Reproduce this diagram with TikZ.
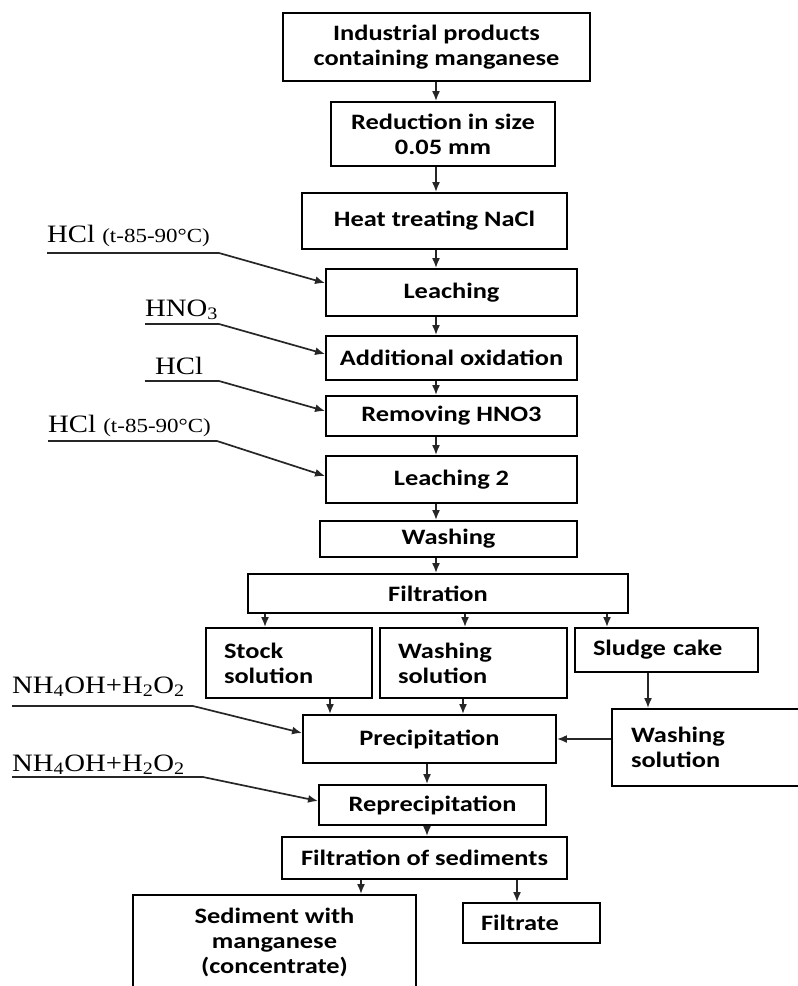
\documentclass[tikz,border=0pt]{standalone}
\usepackage{fontspec}
\setmainfont{Liberation Serif}
\newfontfamily\boxfont{Carlito}[FakeStretch=1.2]
\newfontfamily\chemfont{Liberation Serif}[FakeStretch=1.15]
\usetikzlibrary{arrows.meta}

\begin{document}
\begin{tikzpicture}[x=1pt, y=-1pt,
    box/.style={rectangle, draw, line width=1.9pt, inner sep=0pt, align=center, font=\boxfont\bfseries\fontsize{22}{25}\selectfont},
    lbox/.style={box, align=left},
    chem/.style={anchor=base west, inner sep=0pt, font=\chemfont\fontsize{25}{28}\selectfont},
    arrow/.style={-{Latex[length=10pt,width=8pt]}, line width=1.7pt, draw=black!85}
]
\useasboundingbox (0,0) rectangle (798,986);
\clip (0,0) rectangle (798,986);

% Main line
\node[box, minimum width=307pt, minimum height=68pt] (top) at (436.5,47) {Industrial products\\containing manganese};
\node[box, minimum width=224pt, minimum height=64pt] (reduce) at (443,134) {Reduction in size\\0.05 mm};
\node[box, minimum width=265pt, minimum height=56pt] (heat) at (434.5,221) {Heat treating NaCl};
\node[box, minimum width=251pt, minimum height=47pt] (leach) at (451.5,292.5) {Leaching};
\node[box, minimum width=251pt, minimum height=44pt] (oxid) at (451.5,358) {Additional oxidation};
\node[box, minimum width=251pt, minimum height=40pt] (remove) at (451.5,416) {Removing HNO3};
\node[box, minimum width=251pt, minimum height=47pt] (leach2) at (451.5,479.5) {Leaching 2};
\node[box, minimum width=257pt, minimum height=36pt] (wash) at (448.5,539) {Washing};
\node[box, minimum width=380pt, minimum height=39pt] (filt) at (438,593.5) {Filtration};

% Products of filtration
\node[lbox, minimum width=166pt, minimum height=70pt, text width=130pt] (stock) at (289,663) {Stock\\solution};
\node[lbox, minimum width=187pt, minimum height=70pt, text width=151pt] (washsol) at (473.5,663) {Washing\\solution};
\node[lbox, minimum width=183pt, minimum height=44pt, text width=147pt] (sludge) at (666.5,650) {Sludge cake};
\node[lbox, minimum width=193pt, minimum height=77pt, text width=155pt] (washsolb) at (708.5,747.5) {Washing\\solution};

% Precipitation
\node[box, minimum width=253pt, minimum height=48pt] (precip) at (429.5,739) {Precipitation};
\node[box, minimum width=227pt, minimum height=40pt] (reprecip) at (432.5,805) {Reprecipitation};
\node[box, minimum width=285pt, minimum height=42pt] (filtsed) at (424.5,858) {Filtration of sediments};
\node[box, minimum width=283pt, minimum height=94pt] (sediment) at (274.5,942) {Sediment with\\manganese\\(concentrate)};
\node[lbox, minimum width=137pt, minimum height=40pt, text width=101pt] (filtrate) at (531.5,923) {Filtrate};

% Reagents
\node[chem] (inA) at (47,242) {HCl {\fontsize{20}{22}\selectfont(t-85-90°C)}};
\node[chem] (inB) at (145,316) {HNO\textsubscript{3}};
\node[chem] (inC) at (155,374) {HCl};
\node[chem] (inD) at (48,432) {HCl {\fontsize{20}{22}\selectfont(t-85-90°C)}};
\node[chem] (inE) at (12,693) {NH\textsubscript{4}OH+H\textsubscript{2}O\textsubscript{2}};
\node[chem] (inF) at (12,771) {NH\textsubscript{4}OH+H\textsubscript{2}O\textsubscript{2}};

\coordinate (spine) at (436,0);
\coordinate (spineb) at (427,0);

% Arrows
\draw[arrow] (top.south -| spine) -- (reduce.north -| spine);
\draw[arrow] (reduce.south -| spine) -- (heat.north -| spine);
\draw[arrow] (heat.south -| spine) -- (leach.north -| spine);
\draw[arrow] (leach.south -| spine) -- (oxid.north -| spine);
\draw[arrow] (oxid.south -| spine) -- (remove.north -| spine);
\draw[arrow] (remove.south -| spine) -- (leach2.north -| spine);
\draw[arrow] (leach2.south -| spine) -- (wash.north -| spine);
\draw[arrow] (wash.south -| spine) -- (filt.north -| spine);
\draw[arrow] (filt.south -| 265,0) -- (stock.north -| 265,0);
\draw[arrow] (filt.south -| 465,0) -- (washsol.north -| 465,0);
\draw[arrow] (filt.south -| 607,0) -- (sludge.north -| 607,0);
\draw[arrow] (sludge.south -| 648,0) -- (washsolb.north -| 648,0);
\draw[arrow] (stock.south -| 330,0) -- (precip.north -| 330,0);
\draw[arrow] (washsol.south -| 463,0) -- (precip.north -| 463,0);
\draw[arrow] (washsolb.west |- precip.east) -- (precip.east);
\draw[arrow] (precip.south -| spineb) -- (reprecip.north -| spineb);
\draw[arrow] (reprecip.south -| spineb) -- (filtsed.north -| spineb);
\draw[arrow] (filtsed.south -| 361,0) -- (sediment.north -| 361,0);
\draw[arrow] (filtsed.south -| 517,0) -- (filtrate.north -| 517,0);

\draw[arrow] ([yshift=-11pt]inA.base west) -- ++(172,0) -- ([yshift=9.5pt]leach.west);
\draw[arrow] ([yshift=-8pt]inB.base west) -- ++(74,0) -- ([yshift=4pt]oxid.west);
\draw[arrow] ([xshift=-10pt,yshift=-7pt]inC.base west) -- ++(74,0) -- ([yshift=5pt]remove.west);
\draw[arrow] ([yshift=-9pt]inD.base west) -- ++(169,0) -- ([yshift=3.5pt]leach2.west);
\draw[arrow] ([yshift=-13pt]inE.base west) -- ++(181,0) -- ([yshift=6pt]precip.west);
\draw[arrow] ([yshift=-6pt]inF.base west) -- ++(191,0) -- ([yshift=4pt]reprecip.west);

\end{tikzpicture}
\end{document}
